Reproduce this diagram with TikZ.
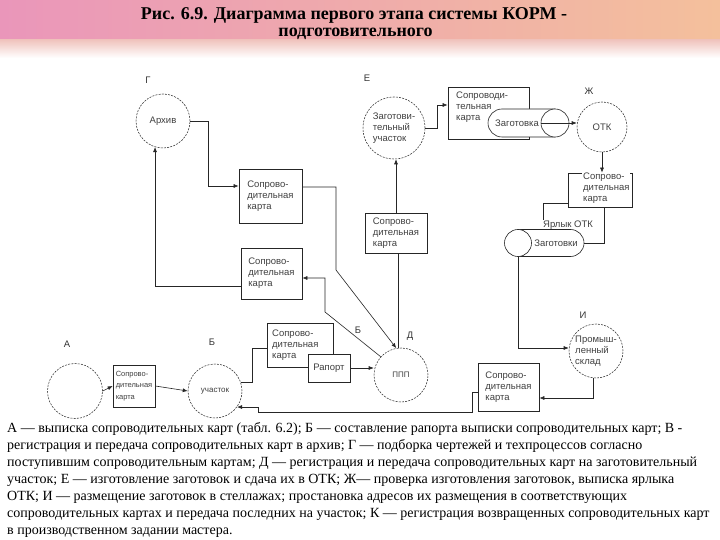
\documentclass[tikz,border=0pt]{standalone}
\usepackage{fontspec}
\setmainfont{Liberation Serif}
\newfontfamily\dsans{Liberation Sans}
\usetikzlibrary{shapes.misc,arrows.meta,calc}
\begin{document}
\begin{tikzpicture}[x=1pt,y=-1pt,
  circ/.style={circle,draw=black!80,dash pattern=on 2pt off 1.2pt,line width=0.55pt,fill=white,inner sep=0pt,minimum size=#1,font=\dsans\fontsize{9.5}{11.3}\selectfont,text=black!75,align=left},
  box/.style={draw=black!85,line width=0.7pt,fill=white,inner sep=0pt,font=\dsans\fontsize{9.5}{11}\selectfont,text=black!75,align=left},
  txt/.style={inner sep=0pt,font=\dsans\fontsize{9.5}{11}\selectfont,text=black!75,align=left},
  cyl/.style={draw=black!85,line width=0.6pt,fill=white,inner sep=0pt,rounded rectangle},
  conn/.style={draw=black!85,line width=0.6pt},
  arr/.style={conn,-{Latex[length=5pt,width=4pt]}},
  lab/.style={font=\dsans\fontsize{9.5}{11}\selectfont,text=black!80,inner sep=0pt},
  captxt/.style={anchor=base west,inner sep=0pt,font=\fontsize{14}{17}\selectfont},
  ttl/.style={anchor=base,inner sep=0pt,font=\bfseries\fontsize{18}{17}\selectfont},
]
\useasboundingbox (0,0) rectangle (720,540);
\fill[white] (0,0) rectangle (720,540);
% decorative top band
\shade[left color={rgb,255:red,234;green,150;blue,186}, middle color={rgb,255:red,242;green,206;blue,206}, right color={rgb,255:red,244;green,192;blue,156}] (0,0) rectangle (720,40);
\shade[top color={rgb,255:red,240;green,196;blue,190}, bottom color=white] (0,40) rectangle (720,58);

% title
\node[ttl] (t1) at (354,20) {Рис. 6.9. Диаграмма первого этапа системы КОРМ -};
\node[ttl] (t2) at (355.5,37) {подготовительного};

% circles
\node[circ=54] (arch) at (163,121) {Архив};
\node[circ=62] (zu) at (394,128) {Заготови-\\тельный\\участок};
\node[circ=50] (otk) at (602,127) {ОТК};
\node[circ=54] (sklad) at (596,351) {Промыш-\\ленный\\склад};
\node[circ=54,font=\dsans\fontsize{8}{9}\selectfont] (ppp) at (401,375) {ППП};
\node[circ=55] (A) at (75,391) {};
\node[circ=54,font=\dsans\fontsize{8}{9}\selectfont] (uch) at (215,391) {участок};

% boxes
\node[box,minimum width=63,minimum height=54] (b1) at (270.5,196) {Сопрово-\\дительная\\карта};
\node[box,minimum width=61,minimum height=51] (b2) at (271.5,273.5) {Сопрово-\\дительная\\карта};
\node[box,minimum width=66,minimum height=44] (b3) at (300,345) {};
\node[txt,anchor=west] (b3t) at (272,345) {Сопрово-\\дительная\\карта};
\node[box,minimum width=42,minimum height=28] (rap) at (329,368) {Рапорт};
\node[box,minimum width=62,minimum height=40] (b7) at (396,233) {Сопрово-\\дительная\\карта};
\node[box,minimum width=61,minimum height=48] (b5) at (508.5,387) {Сопрово-\\дительная\\карта};
\node[box,minimum width=42,minimum height=42,font=\dsans\fontsize{7.5}{11.5}\selectfont] (b8) at (134,386) {Сопрово-\\дительная\\карта};

% card + workpiece (E)
\node[box,minimum width=81,minimum height=52] (b4) at (488.5,113) {};
\node[txt,anchor=west] (b4t) at (456,107) {Сопроводи-\\тельная\\карта};
\node[cyl,rounded rectangle right arc=none,minimum width=67,minimum height=28] (zb1) at (521.5,123) {};
\node[txt] (zt1) at (517,123) {Заготовка};
\node[circle,draw=black!85,line width=0.6pt,fill=white,inner sep=0pt,minimum size=28] (zc1) at (555,123) {};

% card + label + workpieces (Ж)
\node[box,minimum width=61,minimum height=40] (yar) at (573.5,223) {};
\node[txt,fill=white,inner sep=1pt] (yart) at (568,225) {Ярлык ОТК};
\node[box,minimum width=64,minimum height=34] (b6) at (600,190) {};
\node[txt,anchor=west,fill=white,inner xsep=1pt,inner ysep=0pt] (b6t) at (582,188) {Сопрово-\\дительная\\карта};
\node[cyl,rounded rectangle left arc=none,minimum width=66,minimum height=27] (zb2) at (551,243) {};
\node[txt] (zt2) at (556,243) {Заготовки};
\node[circle,draw=black!85,line width=0.6pt,fill=white,inner sep=0pt,minimum size=27] (zc2) at (518,243) {};

% connectors
\draw[arr] (arch.east) -- (208,121) |- ($(b1.west)+(0,-10)$);
\draw[arr] ($(b1.east)+(0,-9)$) -- (336,187) -- (336,270) -- (ppp.100);
\draw[arr] (ppp.138) -- (325,312) -- (325,278) -- ($(b2.east)+(0,4.5)$);
\draw[arr] ($(b2.west)+(0,12.5)$) -| (arch.253);
\draw[arr] (b7.north) -- (b7.north |- zu.south);
\draw[conn] (ppp.96) -- (ppp.96 |- b7.south);
\draw[arr] (zu.east) -- ++(12,0) |- ($(b4.west)+(0,-8)$);
\draw[arr] (zc1.west) -- (zc1.west -| otk.west);
\draw[arr] (otk.south) -- (otk.south |- b6.north);
\draw[arr] (zc2.south) |- ($(sklad.west)+(0,-3)$);
\draw[arr] (sklad.265) |- ($(b5.east)+(0,11)$);
\draw[arr] ($(b5.west)+(0,5)$) -- (472,392) -- (472,412) -- (258,412) |- (uch.-36);
\draw[arr] (A.east) -- (b8.west);
\draw[arr] (b8.east) -- (uch.west);
\draw[conn] (uch.19) -- ++(12,0) |- ($(b3.west)+(0,3)$);
\draw[arr] (rap.east) -- (rap.east -| ppp.west);

% labels
\node[lab] (lG) at (148,80) {Г};
\node[lab] (lE) at (367,78) {Е};
\node[lab] (lZh) at (589,91) {Ж};
\node[lab] (lI) at (583,315) {И};
\node[lab] (lD) at (410,336) {Д};
\node[lab] (lB1) at (358,330) {Б};
\node[lab] (lA) at (67,344) {А};
\node[lab] (lB2) at (212,342) {Б};

% caption
\node[captxt] (c1) at (7,432) {А — выписка сопроводительных карт (табл. 6.2); Б — составление рапорта выписки сопроводительных карт; В -};
\node[captxt] (c2) at (7,449) {регистрация и передача сопроводительных карт в архив; Г — подборка чертежей и техпроцессов согласно};
\node[captxt] (c3) at (7,466.5) {поступившим сопроводительным картам; Д — регистрация и передача сопроводительных карт на заготовительный};
\node[captxt] (c4) at (7,483.5) {участок; Е — изготовление заготовок и сдача их в ОТК; Ж— проверка изготовления заготовок, выписка ярлыка};
\node[captxt] (c5) at (7,500.5) {ОТК; И — размещение заготовок в стеллажах; простановка адресов их размещения в соответствующих};
\node[captxt] (c6) at (7,517.5) {сопроводительных картах и передача последних на участок; К — регистрация возвращенных сопроводительных карт};
\node[captxt] (c7) at (7,534.5) {в производственном задании мастера.};
\end{tikzpicture}
\end{document}
